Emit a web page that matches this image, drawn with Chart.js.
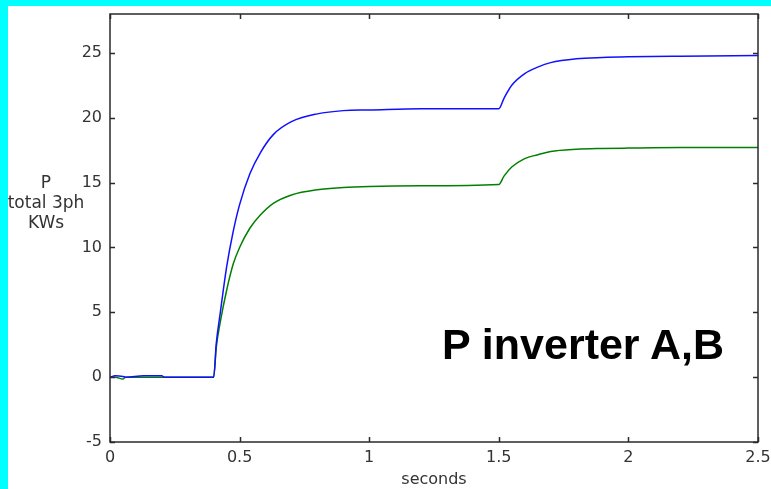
<!DOCTYPE html>
<html>
<head>
<meta charset="utf-8">
<script src="https://cdn.jsdelivr.net/npm/chart.js@4"></script>
<style>
    html, body { margin: 0; padding: 0; background: #fff; }
    #wrap { position: relative; width: 771px; height: 489px; overflow: hidden; }
    #myChart { position: absolute; left: 0; top: 0; }
    .edge { position: absolute; background: #00ffff; }
    #ytitle {
        position: absolute; left: 1px; top: 172px; width: 90px;
        text-align: center; font: 17px "DejaVu Sans", sans-serif;
        line-height: 20px; color: #333;
    }
    #note {
        position: absolute; left: 442px; top: 323px; white-space: nowrap;
        font: bold 43px "Liberation Sans", Arial, sans-serif; line-height: 1; color: #000;
    }
</style>
</head>
<body>
<div id="wrap">
    <canvas id="myChart" width="771" height="489"></canvas>
    <div class="edge" style="left:0;top:0;width:771px;height:6px"></div>
    <div class="edge" style="left:0;top:0;width:8px;height:489px"></div>
    <div id="ytitle">P<br>total 3ph<br>KWs</div>
    <div id="note">P inverter A,B</div>
</div>
<script>
// time base (s) and total 3-phase power (kW) of both inverters
var times = [0, 0.02, 0.05, 0.06, 0.13, 0.2, 0.21, 0.4, 0.41, 0.425, 0.45, 0.475, 0.5, 0.54, 0.58, 0.63,
             0.7, 0.8, 0.9, 1.0, 1.2, 1.5, 1.52, 1.55, 1.6, 1.65, 1.7, 1.8, 1.9, 2.0, 2.2, 2.5];
var inverterA = [0, 0.1, 0.05, 0, 0.1, 0.1, 0, 0, 2.6, 4.9, 8.5, 11.2, 13.3, 15.7, 17.3, 18.7,
                 19.7, 20.3, 20.55, 20.6, 20.7, 20.7, 21.5, 22.5, 23.4, 23.9, 24.25, 24.55, 24.65, 24.7, 24.75, 24.8];
var inverterB = [0, 0, -0.15, 0, 0, 0, 0, 0, 2.3, 4.2, 6.7, 8.7, 10.0, 11.5, 12.5, 13.4,
                 14.05, 14.45, 14.62, 14.7, 14.75, 14.85, 15.5, 16.2, 16.85, 17.15, 17.4, 17.57, 17.63, 17.66, 17.7, 17.7];
var xTicks = [0, 0.5, 1, 1.5, 2, 2.5];
var yTicks = [-5, 0, 5, 10, 15, 20, 25];

function points(vals) {
    return times.map(function(t, i) { return { x: t, y: vals[i] }; });
}

// axes get fixed sizes, and no extra room for overhanging labels
function fixSize(w, h) {
    return function(scale) {
        if (w) scale.width = w;
        if (h) scale.height = h;
        scale.paddingLeft = scale.paddingRight = scale.paddingTop = scale.paddingBottom = 0;
    };
}

// matlab style box with short inward tick marks on all four sides
var boxPlugin = {
    id: 'box',
    afterDatasetsDraw: function(chart) {
        var c = chart.ctx, a = chart.chartArea;
        var xs = chart.scales.x, ys = chart.scales.y;
        c.save();
        c.strokeStyle = '#2a2a2a';
        c.lineWidth = 1.5;
        c.strokeRect(a.left, a.top, a.right - a.left, a.bottom - a.top);
        c.beginPath();
        xTicks.forEach(function(v) {
            var px = Math.round(xs.getPixelForValue(v)) + 0.5;
            c.moveTo(px, a.bottom); c.lineTo(px, a.bottom - 5);
            c.moveTo(px, a.top); c.lineTo(px, a.top + 5);
        });
        yTicks.forEach(function(v) {
            var py = Math.round(ys.getPixelForValue(v)) + 0.5;
            c.moveTo(a.left, py); c.lineTo(a.left + 5, py);
            c.moveTo(a.right, py); c.lineTo(a.right - 5, py);
        });
        c.stroke();
        c.restore();
    }
};

var ctx = document.getElementById('myChart').getContext('2d');
var myChart = new Chart(ctx, {
    type: 'line',
    data: {
        datasets: [{
            label: 'inverter A',
            data: points(inverterA),
            borderColor: '#1010ff',
            borderWidth: 1.5,
            pointRadius: 0,
            cubicInterpolationMode: 'monotone'
        }, {
            label: 'inverter B',
            data: points(inverterB),
            borderColor: '#008000',
            borderWidth: 1.5,
            pointRadius: 0,
            cubicInterpolationMode: 'monotone'
        }]
    },
    options: {
        responsive: false,
        animation: false,
        layout: { padding: { left: 0, top: 14, right: 13, bottom: 0 } },
        plugins: {
            legend: { display: false },
            tooltip: { enabled: false }
        },
        scales: {
            x: {
                type: 'linear',
                min: 0,
                max: 2.5,
                grid: { display: false, drawTicks: false },
                border: { display: false },
                afterBuildTicks: function(scale) {
                    scale.ticks = xTicks.map(function(v) { return { value: v }; });
                },
                afterFit: fixSize(0, 47),
                ticks: {
                    padding: 6,
                    maxRotation: 0,
                    color: '#333',
                    font: { family: 'DejaVu Sans', size: 16 },
                    callback: function(v) { return String(v); }
                },
                title: {
                    display: true,
                    text: 'seconds',
                    color: '#333',
                    font: { family: 'DejaVu Sans', size: 16 },
                    padding: { top: 0, bottom: 0 }
                }
            },
            y: {
                min: -5,
                max: 28,
                grid: { display: false, drawTicks: false },
                border: { display: false },
                afterBuildTicks: function(scale) {
                    scale.ticks = yTicks.map(function(v) { return { value: v }; });
                },
                afterFit: fixSize(110, 0),
                ticks: {
                    padding: 8,
                    color: '#333',
                    font: { family: 'DejaVu Sans', size: 16 }
                }
            }
        }
    },
    plugins: [boxPlugin]
});
</script>
</body>
</html>
